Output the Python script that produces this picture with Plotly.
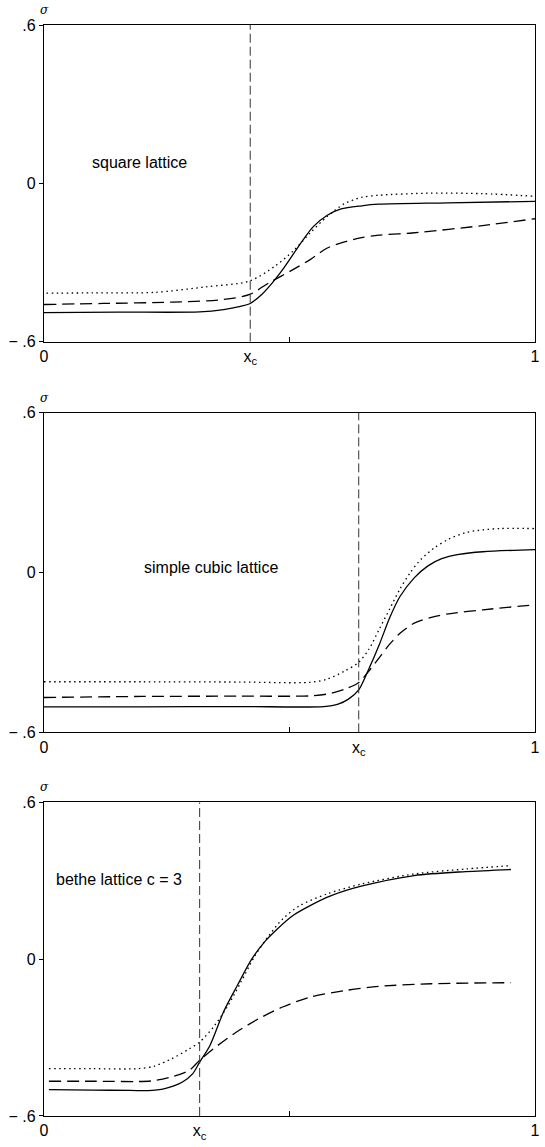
import plotly.graph_objects as go

# ---------------- data ----------------
# square lattice
sq_xc = 0.42
sq_dot_x = [0.005, 0.10, 0.226, 0.33, 0.419, 0.47, 0.507, 0.542, 0.577, 0.612, 0.647, 0.682, 0.787, 0.893, 1.0]
sq_dot_y = [-0.416, -0.415, -0.413, -0.392, -0.37, -0.314, -0.257, -0.188, -0.125, -0.077, -0.053, -0.045, -0.037, -0.039, -0.049]
sq_sol_x = [0.0, 0.15, 0.317, 0.366, 0.40, 0.419, 0.444, 0.465, 0.486, 0.507, 0.528, 0.549, 0.577, 0.605, 0.647, 0.682, 0.822, 1.0]
sq_sol_y = [-0.49, -0.488, -0.487, -0.478, -0.466, -0.456, -0.42, -0.377, -0.327, -0.27, -0.213, -0.163, -0.121, -0.097, -0.085, -0.079, -0.074, -0.068]
sq_das_x = [0.0, 0.12, 0.26, 0.366, 0.419, 0.458, 0.507, 0.542, 0.577, 0.612, 0.647, 0.682, 0.75, 0.893, 1.0]
sq_das_y = [-0.459, -0.455, -0.45, -0.44, -0.421, -0.377, -0.327, -0.289, -0.245, -0.222, -0.206, -0.196, -0.188, -0.160, -0.134]

# simple cubic lattice
sc_xc = 0.641
sc_dot_x = [0.0, 0.2, 0.4, 0.542, 0.577, 0.613, 0.641, 0.662, 0.683, 0.704, 0.725, 0.746, 0.768, 0.796, 0.824, 0.859, 0.894, 0.93, 1.0]
sc_dot_y = [-0.41, -0.41, -0.411, -0.412, -0.40, -0.369, -0.337, -0.287, -0.212, -0.137, -0.062, 0.0, 0.05, 0.094, 0.125, 0.15, 0.16, 0.165, 0.165]
sc_sol_x = [0.0, 0.2, 0.4, 0.57, 0.599, 0.62, 0.641, 0.662, 0.683, 0.704, 0.725, 0.754, 0.782, 0.81, 0.845, 0.894, 1.0]
sc_sol_y = [-0.504, -0.504, -0.503, -0.503, -0.494, -0.475, -0.44, -0.36, -0.27, -0.17, -0.09, -0.02, 0.025, 0.052, 0.068, 0.078, 0.086]
sc_das_x = [0.0, 0.2, 0.4, 0.542, 0.577, 0.613, 0.641, 0.662, 0.683, 0.704, 0.725, 0.754, 0.789, 0.824, 0.894, 1.0]
sc_das_y = [-0.469, -0.465, -0.464, -0.463, -0.456, -0.4375, -0.4125, -0.369, -0.319, -0.269, -0.228, -0.19, -0.168, -0.155, -0.14, -0.121]

# bethe lattice c = 3
be_xc = 0.317
be_dot_x = [0.01, 0.1, 0.19, 0.225, 0.26, 0.296, 0.317, 0.345, 0.373, 0.401, 0.43, 0.458, 0.486, 0.521, 0.577, 0.648, 0.754, 0.859, 0.951]
be_dot_y = [-0.419, -0.419, -0.419, -0.409, -0.381, -0.343, -0.317, -0.26, -0.183, -0.088, 0.014, 0.09, 0.154, 0.205, 0.25, 0.288, 0.326, 0.345, 0.358]
be_sol_x = [0.01, 0.1, 0.176, 0.211, 0.246, 0.282, 0.303, 0.317, 0.338, 0.366, 0.394, 0.423, 0.451, 0.472, 0.507, 0.542, 0.585, 0.648, 0.754, 0.859, 0.951]
be_sol_y = [-0.499, -0.501, -0.502, -0.503, -0.495, -0.47, -0.438, -0.394, -0.33, -0.2, -0.1, 0.0, 0.07, 0.11, 0.167, 0.205, 0.243, 0.28, 0.32, 0.335, 0.343]
be_das_x = [0.01, 0.1, 0.218, 0.26, 0.296, 0.317, 0.345, 0.387, 0.437, 0.486, 0.542, 0.613, 0.683, 0.789, 0.951]
be_das_y = [-0.467, -0.467, -0.466, -0.45, -0.425, -0.387, -0.343, -0.285, -0.228, -0.183, -0.145, -0.12, -0.104, -0.094, -0.09]

panel_labels = ["square lattice", "simple cubic lattice", "bethe lattice c = 3"]
label_pos = [(0.093, 0.078), (0.2, 0.02), (0.021, 0.306)]
ytick_vals = [-0.6, 0, 0.6]
ytick_text = ["\u2212 .6", "0", ".6"]

panels = [
    (sq_xc, sq_dot_x, sq_dot_y, sq_sol_x, sq_sol_y, sq_das_x, sq_das_y),
    (sc_xc, sc_dot_x, sc_dot_y, sc_sol_x, sc_sol_y, sc_das_x, sc_das_y),
    (be_xc, be_dot_x, be_dot_y, be_sol_x, be_sol_y, be_das_x, be_das_y),
]

domains = [(0.7097, 1.0), (0.3516, 0.6447), (0.0, 0.2875)]

FONT = "Liberation Sans, Arial, sans-serif"
fig = go.Figure()
layout = {}
annotations = []

for i, (xc, dx, dy, sx, sy, ax_, ay_) in enumerate(panels):
    n = "" if i == 0 else str(i + 1)
    xa, ya = "x" + n, "y" + n
    line_common = dict(color="black", width=1.3, shape="spline", smoothing=0.8)
    fig.add_trace(go.Scatter(x=dx, y=dy, mode="lines", xaxis=xa, yaxis=ya,
                             line=dict(dash="1.5px,3.5px", **line_common), showlegend=False))
    fig.add_trace(go.Scatter(x=sx, y=sy, mode="lines", xaxis=xa, yaxis=ya,
                             line=dict(dash="solid", **line_common), showlegend=False))
    fig.add_trace(go.Scatter(x=ax_, y=ay_, mode="lines", xaxis=xa, yaxis=ya,
                             line=dict(dash="12px,6px", **line_common), showlegend=False))
    # x_c vertical line
    fig.add_trace(go.Scatter(x=[xc, xc], y=[-0.6, 0.6], mode="lines", xaxis=xa, yaxis=ya,
                             line=dict(color="#333333", width=1, dash="9px,4px"), showlegend=False))

    layout["xaxis" + n] = dict(
        domain=[0, 1], anchor=ya, range=[0, 1],
        showline=True, mirror=True, linecolor="black", linewidth=1.2,
        showgrid=False, zeroline=False,
        tickmode="array", tickvals=[0, xc, 1], ticktext=["0", "x<sub>c</sub>", "1"],
        ticks="", tickfont=dict(size=16, family=FONT, color="black"),
        minor=dict(tickmode="array", tickvals=[0.5], ticks="inside", ticklen=5,
                   tickcolor="black", tickwidth=1, showgrid=False),
        fixedrange=True,
    )
    layout["yaxis" + n] = dict(
        domain=list(domains[i]), anchor=xa, range=[-0.6, 0.6],
        showline=True, mirror=True, linecolor="black", linewidth=1.2,
        showgrid=False, zeroline=False,
        tickmode="array", tickvals=ytick_vals, ticktext=ytick_text,
        ticks="outside", ticklen=4, tickcolor="black",
        tickfont=dict(size=16, family=FONT, color="black"),
        fixedrange=True,
    )
    annotations.append(dict(x=label_pos[i][0], y=label_pos[i][1], xref=xa, yref=ya,
                            text=panel_labels[i], showarrow=False, xanchor="left", yanchor="middle",
                            font=dict(size=16, family=FONT, color="black")))
    annotations.append(dict(x=0, y=domains[i][1], xref="paper", yref="paper",
                            text="<i>σ</i>", showarrow=False, xanchor="center", yanchor="bottom",
                            yshift=6, font=dict(size=12, family="DejaVu Serif, serif", color="black")))

fig.update_layout(
    width=545, height=1147,
    margin=dict(l=44, r=5, t=25, b=30),
    paper_bgcolor="white", plot_bgcolor="white",
    annotations=annotations,
    **layout,
)

fig.write_html("out.html")
